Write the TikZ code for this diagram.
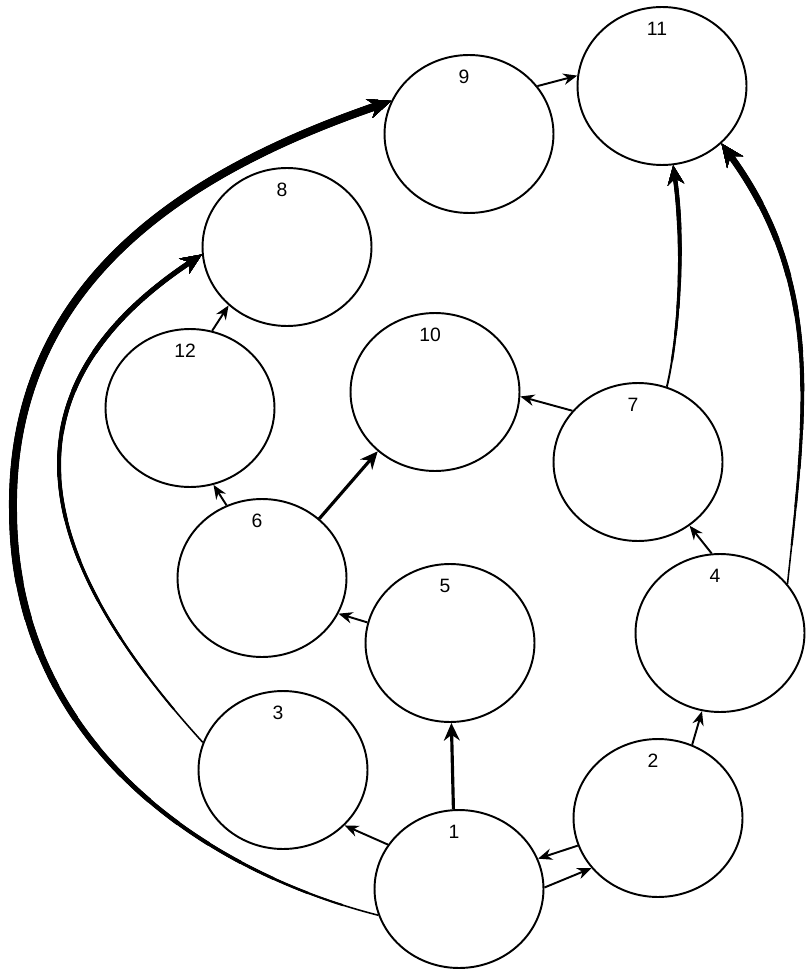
\documentclass[tikz,border=0pt]{standalone}
\usepackage{fontspec}
\setsansfont{Liberation Sans}
\usetikzlibrary{arrows.meta,shapes.geometric}
\tikzset{
  statebox/.style={
    ellipse, draw, line width=1.1pt, fill=white,
    minimum width=3.38cm, minimum height=3.16cm, inner sep=0pt,
    label={[anchor=center, xshift=-0.1cm, yshift=-0.46cm,
            font=\sffamily\fontsize{11}{13}\selectfont]north:#1}
  },
  flow/.style={-{Stealth[length=8pt,width=6.5pt]}, line width=1.1pt},
  bigflow/.style={-{Stealth[length=10pt,width=9pt]}, line width=1.8pt},
  arcflow/.style={-{Stealth[length=#1,width=0.85*#1]}},
  arcflow/.default=13pt,
  taper/.style 2 args={line width=#1, dash pattern=on 0pt off #2 on 2000pt},
}
\begin{document}
\begin{tikzpicture}[x=0.02cm, y=-0.02cm]
  \useasboundingbox (0,0) rectangle (805,973);
  % states
  \node[statebox=1]  (n1)  at (459,889) {};
  \node[statebox=2]  (n2)  at (658,818) {};
  \node[statebox=3]  (n3)  at (283,770) {};
  \node[statebox=4]  (n4)  at (720,633) {};
  \node[statebox=5]  (n5)  at (450,643) {};
  \node[statebox=6]  (n6)  at (262,578) {};
  \node[statebox=7]  (n7)  at (638,462) {};
  \node[statebox=8]  (n8)  at (287,247) {};
  \node[statebox=9]  (n9)  at (469,134) {};
  \node[statebox=10] (n10) at (435,392) {};
  \node[statebox=11] (n11) at (662,86)  {};
  \node[statebox=12] (n12) at (190,408) {};
  % short links
  \draw[bigflow] (n1.94) -- (n5.271);
  \draw[flow] (n1.148) -- (n3.318);
  \draw[flow] (n2.199) -- (n1.21);
  \draw[flow] (n1.1) -- (n2.217);
  \draw[flow] (n2.65) -- (n4.257);
  \draw[flow] (n4.96) -- (n7.309);
  \draw[flow] (n7.142) -- (n10.357);
  \draw[flow] (n5.166) -- (n6.335);
  \draw[flow] (n6.116) -- (n12.287);
  \draw[bigflow] (n6.46) -- (n10.226);
  \draw[flow] (n12.74) -- (n8.225);
  \draw[flow] (n9.35) -- (n11.173);
  % long arcs, thickening towards the head
  \foreach \i [evaluate=\i as \w using 0.9+0.26*\i, evaluate=\i as \s using 0.01+21*\i] in {0,...,14}
    \draw[arcflow, taper={\w pt}{\s pt}] (n1.198) .. controls (200,870) and (13,740) .. (13,510)
      .. controls (10,280) and (190,170) .. (n9.157);
  \foreach \i [evaluate=\i as \w using 0.9+0.2*\i, evaluate=\i as \s using 0.01+25*\i] in {0,...,10}
    \draw[arcflow=12pt, taper={\w pt}{\s pt}] (n3.161) .. controls (35,558) and (-7,393) .. (n8.185);
  \foreach \i [evaluate=\i as \w using 0.9+0.28*\i, evaluate=\i as \s using 0.01+22*\i] in {0,...,10}
    \draw[arcflow, taper={\w pt}{\s pt}] (n4.36) .. controls (806,410) and (824,284) .. (n11.316);
  \foreach \i [evaluate=\i as \w using 1.1+0.23*\i, evaluate=\i as \s using 0.01+15*\i] in {0,...,6}
    \draw[arcflow=11pt, taper={\w pt}{\s pt}] (n7.69) .. controls (680,330) and (684,240) .. (n11.278);
\end{tikzpicture}
\end{document}
